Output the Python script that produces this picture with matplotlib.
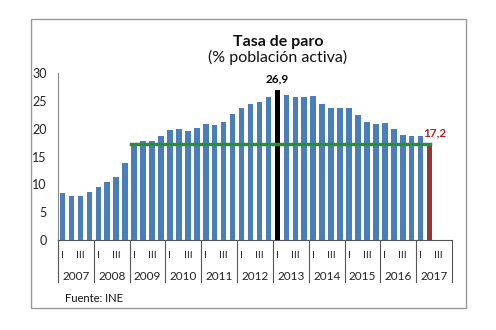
import matplotlib
matplotlib.use("Agg")
import matplotlib.pyplot as plt
from matplotlib.patches import Rectangle
from matplotlib.lines import Line2D

plt.rcParams['font.family'] = ['Lato', 'DejaVu Sans']

years = ['2007', '2008', '2009', '2010', '2011', '2012', '2013', '2014', '2015', '2016', '2017']
quarter_labels = ['I', '', 'III', '']
values = [
    8.42, 7.93, 7.95, 8.57,
    9.60, 10.44, 11.33, 13.79,
    17.24, 17.77, 17.77, 18.66,
    19.84, 19.89, 19.59, 20.11,
    20.89, 20.64, 21.28, 22.56,
    23.78, 24.40, 24.79, 25.77,
    26.94, 26.06, 25.65, 25.73,
    25.93, 24.47, 23.67, 23.70,
    23.78, 22.37, 21.18, 20.90,
    21.00, 20.00, 18.91, 18.63,
    18.75, 17.22,
]
peak_index = 24
peak_label = '26,9'
last_label = '17,2'
ref_start_index = 8

W, H = 496, 330
fig = plt.figure(figsize=(W / 100, H / 100), dpi=100)

# outer frame
fig.add_artist(Rectangle((31 / W, 1 - 308 / H), (466 - 31) / W, (308 - 19) / H,
                         transform=fig.transFigure, fill=False, edgecolor='#999999', linewidth=1))

left, right, bottom, top = 58, 452, 240, 73
ax = fig.add_axes([left / W, 1 - bottom / H, (right - left) / W, (bottom - top) / H])

n_slots = len(years) * 4
x = list(range(len(values)))
colors = ['#4A7EBB'] * len(values)
colors[peak_index] = '#000000'
colors[-1] = '#953735'
ax.bar(x, values, width=0.62, color=colors, zorder=2)

ax.set_xlim(-0.5, n_slots - 0.5)
ax.set_ylim(0, 30)
ax.set_yticks(range(0, 31, 5))
ax.tick_params(axis='y', length=0, pad=8, labelsize=9, colors='#222222')
ax.set_xticks([])
for s in ['top', 'right']:
    ax.spines[s].set_visible(False)
ax.spines['left'].set_color('#888888')
ax.spines['bottom'].set_color('#555555')

# reference line
last = values[-1]
ax.plot([ref_start_index - 0.35, len(values) - 1], [last, last], color='#2E8B3E', linewidth=2.5, zorder=3)

# labels
ax.text(peak_index, values[peak_index] + 1.0, peak_label, ha='center', va='bottom',
        fontsize=8.5, fontweight='bold', color='#000000')
ax.text(len(values) - 0.4, last + 1.0, last_label, ha='center', va='bottom',
        fontsize=8.5, fontweight='bold', color='#B22222')

# category axis
trans = ax.get_xaxis_transform()
sep_bottom = -(282 - 240) / (bottom - top)
q_y = -(255 - 240) / (bottom - top)
y_y = -(276 - 240) / (bottom - top)
for k, yr in enumerate(years):
    x0 = k * 4 - 0.5
    ax.add_line(Line2D([x0, x0], [0, sep_bottom], transform=trans, color='#555555',
                       linewidth=0.8, clip_on=False))
    for q, ql in enumerate(quarter_labels):
        if ql:
            ax.text(k * 4 + q, q_y, ql, transform=trans, ha='center', va='center',
                    fontsize=7.5, color='#222222')
    ax.text(k * 4 + 1.5, y_y, yr, transform=trans, ha='center', va='center',
            fontsize=8.5, color='#222222')
x_end = n_slots - 0.5
ax.add_line(Line2D([x_end, x_end], [0, sep_bottom], transform=trans, color='#555555',
                   linewidth=0.8, clip_on=False))

fig.text(278 / W, 1 - 42 / H, 'Tasa de paro', ha='center', va='center',
         fontsize=11.5, fontweight='bold', color='#111111')
fig.text(278 / W, 1 - 57 / H, '(% población activa)', ha='center', va='center',
         fontsize=11.5, color='#111111')
fig.text(65 / W, 1 - 299 / H, 'Fuente: INE', ha='left', va='center',
         fontsize=8, color='#111111')

fig.savefig('out.png', dpi=100)
